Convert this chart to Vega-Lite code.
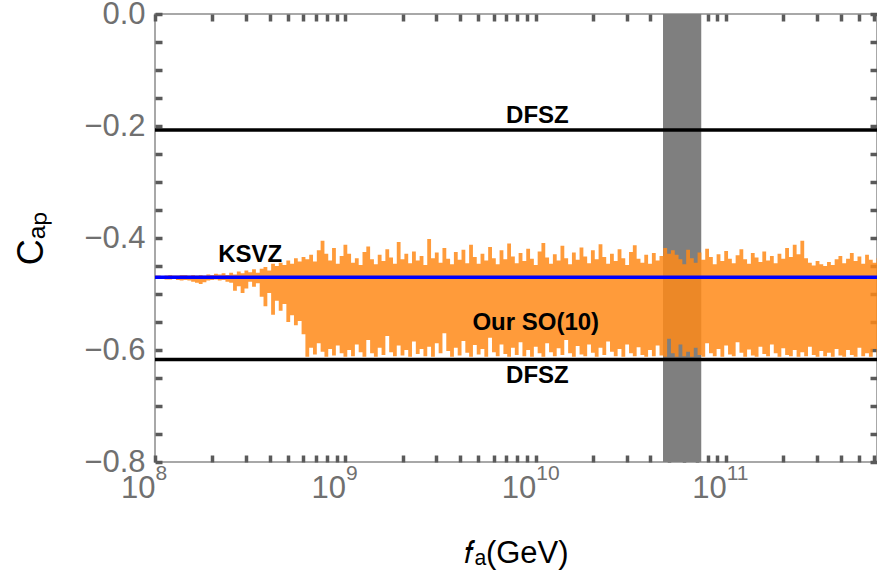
{
  "$schema": "https://vega.github.io/schema/vega-lite/v6.json",
  "width": 722,
  "height": 448,
  "autosize": {"type": "none"},
  "padding": {"left": 155, "top": 14, "right": 0, "bottom": 119},
  "background": "white",
  "config": {
    "view": {"stroke": "#8c8c8c", "strokeWidth": 1.5},
    "axis": {
      "domain": false, "offset": -7, "zindex": 2,
      "ticks": true, "tickColor": "#5a5a5a", "tickWidth": 3.5, "tickSize": 7, "tickOpacity": 1,
      "labelColor": "#707070", "labelFont": "Liberation Sans", "labelFontSize": 31,
      "titleFont": "Liberation Sans", "titleFontSize": 31, "titleFontWeight": "normal", "titleColor": "#000000",
      "grid": false, "labelOverlap": false, "labelFlush": false
    }
  },
  "resolve": {"axis": {"x": "independent", "y": "independent"}},
  "datasets": {
    "band": [{"f0": 4.66e10, "f1": 7.4e10}],
    "lines": [
      {"c": -0.207, "kind": "DFSZ upper"},
      {"c": -0.617, "kind": "DFSZ lower"},
      {"c": -0.470, "kind": "KSVZ"}
    ],
    "labels": [
      {"f": 1.02e10, "c": -0.195, "label": "DFSZ"},
      {"f": 1.02e10, "c": -0.659, "label": "DFSZ"},
      {"f": 3.16e8, "c": -0.443, "label": "KSVZ"},
      {"f": 1.0e10, "c": -0.564, "label": "Our SO(10)"}
    ],
    "series": [
      {"f": 1.000e8, "hi": -0.467, "lo": -0.472},
      {"f": 1.047e8, "hi": -0.467, "lo": -0.473},
      {"f": 1.096e8, "hi": -0.468, "lo": -0.473},
      {"f": 1.148e8, "hi": -0.467, "lo": -0.474},
      {"f": 1.202e8, "hi": -0.466, "lo": -0.474},
      {"f": 1.259e8, "hi": -0.467, "lo": -0.473},
      {"f": 1.318e8, "hi": -0.467, "lo": -0.475},
      {"f": 1.380e8, "hi": -0.466, "lo": -0.476},
      {"f": 1.445e8, "hi": -0.466, "lo": -0.475},
      {"f": 1.514e8, "hi": -0.467, "lo": -0.476},
      {"f": 1.585e8, "hi": -0.466, "lo": -0.478},
      {"f": 1.660e8, "hi": -0.467, "lo": -0.480},
      {"f": 1.738e8, "hi": -0.466, "lo": -0.482},
      {"f": 1.820e8, "hi": -0.467, "lo": -0.479},
      {"f": 1.905e8, "hi": -0.465, "lo": -0.476},
      {"f": 1.995e8, "hi": -0.466, "lo": -0.475},
      {"f": 2.089e8, "hi": -0.464, "lo": -0.474},
      {"f": 2.188e8, "hi": -0.465, "lo": -0.476},
      {"f": 2.291e8, "hi": -0.463, "lo": -0.475},
      {"f": 2.399e8, "hi": -0.466, "lo": -0.478},
      {"f": 2.512e8, "hi": -0.462, "lo": -0.480},
      {"f": 2.630e8, "hi": -0.465, "lo": -0.494},
      {"f": 2.754e8, "hi": -0.460, "lo": -0.486},
      {"f": 2.884e8, "hi": -0.463, "lo": -0.498},
      {"f": 3.020e8, "hi": -0.458, "lo": -0.490},
      {"f": 3.162e8, "hi": -0.461, "lo": -0.478},
      {"f": 3.311e8, "hi": -0.456, "lo": -0.487},
      {"f": 3.467e8, "hi": -0.462, "lo": -0.481},
      {"f": 3.631e8, "hi": -0.455, "lo": -0.505},
      {"f": 3.802e8, "hi": -0.452, "lo": -0.522},
      {"f": 3.981e8, "hi": -0.458, "lo": -0.498},
      {"f": 4.169e8, "hi": -0.446, "lo": -0.537},
      {"f": 4.365e8, "hi": -0.450, "lo": -0.512},
      {"f": 4.571e8, "hi": -0.444, "lo": -0.530},
      {"f": 4.786e8, "hi": -0.448, "lo": -0.518},
      {"f": 5.012e8, "hi": -0.440, "lo": -0.550},
      {"f": 5.248e8, "hi": -0.446, "lo": -0.538},
      {"f": 5.495e8, "hi": -0.436, "lo": -0.556},
      {"f": 5.754e8, "hi": -0.442, "lo": -0.548},
      {"f": 6.026e8, "hi": -0.434, "lo": -0.572},
      {"f": 6.310e8, "hi": -0.438, "lo": -0.612},
      {"f": 6.607e8, "hi": -0.430, "lo": -0.596},
      {"f": 6.918e8, "hi": -0.442, "lo": -0.608},
      {"f": 7.244e8, "hi": -0.422, "lo": -0.588},
      {"f": 7.586e8, "hi": -0.405, "lo": -0.603},
      {"f": 7.943e8, "hi": -0.428, "lo": -0.612},
      {"f": 8.318e8, "hi": -0.440, "lo": -0.598},
      {"f": 8.710e8, "hi": -0.418, "lo": -0.610},
      {"f": 9.120e8, "hi": -0.446, "lo": -0.592},
      {"f": 9.550e8, "hi": -0.432, "lo": -0.606},
      {"f": 1.000e9, "hi": -0.412, "lo": -0.612},
      {"f": 1.047e9, "hi": -0.428, "lo": -0.600},
      {"f": 1.096e9, "hi": -0.444, "lo": -0.611},
      {"f": 1.148e9, "hi": -0.436, "lo": -0.590},
      {"f": 1.202e9, "hi": -0.448, "lo": -0.604},
      {"f": 1.259e9, "hi": -0.425, "lo": -0.612},
      {"f": 1.318e9, "hi": -0.415, "lo": -0.582},
      {"f": 1.380e9, "hi": -0.438, "lo": -0.606},
      {"f": 1.445e9, "hi": -0.447, "lo": -0.612},
      {"f": 1.514e9, "hi": -0.430, "lo": -0.596},
      {"f": 1.585e9, "hi": -0.441, "lo": -0.609},
      {"f": 1.660e9, "hi": -0.420, "lo": -0.575},
      {"f": 1.738e9, "hi": -0.435, "lo": -0.604},
      {"f": 1.820e9, "hi": -0.446, "lo": -0.611},
      {"f": 1.905e9, "hi": -0.407, "lo": -0.592},
      {"f": 1.995e9, "hi": -0.438, "lo": -0.610},
      {"f": 2.089e9, "hi": -0.428, "lo": -0.600},
      {"f": 2.188e9, "hi": -0.445, "lo": -0.612},
      {"f": 2.291e9, "hi": -0.424, "lo": -0.585},
      {"f": 2.399e9, "hi": -0.440, "lo": -0.607},
      {"f": 2.512e9, "hi": -0.432, "lo": -0.598},
      {"f": 2.630e9, "hi": -0.448, "lo": -0.611},
      {"f": 2.754e9, "hi": -0.402, "lo": -0.594},
      {"f": 2.884e9, "hi": -0.436, "lo": -0.612},
      {"f": 3.020e9, "hi": -0.426, "lo": -0.588},
      {"f": 3.162e9, "hi": -0.444, "lo": -0.606},
      {"f": 3.311e9, "hi": -0.418, "lo": -0.570},
      {"f": 3.467e9, "hi": -0.437, "lo": -0.602},
      {"f": 3.631e9, "hi": -0.447, "lo": -0.612},
      {"f": 3.802e9, "hi": -0.425, "lo": -0.596},
      {"f": 3.981e9, "hi": -0.439, "lo": -0.610},
      {"f": 4.169e9, "hi": -0.421, "lo": -0.584},
      {"f": 4.365e9, "hi": -0.445, "lo": -0.605},
      {"f": 4.571e9, "hi": -0.412, "lo": -0.612},
      {"f": 4.786e9, "hi": -0.434, "lo": -0.591},
      {"f": 5.012e9, "hi": -0.446, "lo": -0.608},
      {"f": 5.248e9, "hi": -0.428, "lo": -0.598},
      {"f": 5.495e9, "hi": -0.440, "lo": -0.612},
      {"f": 5.754e9, "hi": -0.416, "lo": -0.578},
      {"f": 6.026e9, "hi": -0.436, "lo": -0.604},
      {"f": 6.310e9, "hi": -0.447, "lo": -0.611},
      {"f": 6.607e9, "hi": -0.422, "lo": -0.590},
      {"f": 6.918e9, "hi": -0.438, "lo": -0.607},
      {"f": 7.244e9, "hi": -0.410, "lo": -0.612},
      {"f": 7.586e9, "hi": -0.433, "lo": -0.596},
      {"f": 7.943e9, "hi": -0.445, "lo": -0.609},
      {"f": 8.318e9, "hi": -0.427, "lo": -0.586},
      {"f": 8.710e9, "hi": -0.441, "lo": -0.611},
      {"f": 9.120e9, "hi": -0.419, "lo": -0.600},
      {"f": 9.550e9, "hi": -0.437, "lo": -0.612},
      {"f": 1.000e10, "hi": -0.448, "lo": -0.594},
      {"f": 1.047e10, "hi": -0.424, "lo": -0.606},
      {"f": 1.096e10, "hi": -0.409, "lo": -0.612},
      {"f": 1.148e10, "hi": -0.435, "lo": -0.588},
      {"f": 1.202e10, "hi": -0.446, "lo": -0.604},
      {"f": 1.259e10, "hi": -0.429, "lo": -0.611},
      {"f": 1.318e10, "hi": -0.440, "lo": -0.597},
      {"f": 1.380e10, "hi": -0.414, "lo": -0.609},
      {"f": 1.445e10, "hi": -0.436, "lo": -0.582},
      {"f": 1.514e10, "hi": -0.447, "lo": -0.606},
      {"f": 1.585e10, "hi": -0.426, "lo": -0.612},
      {"f": 1.660e10, "hi": -0.439, "lo": -0.593},
      {"f": 1.738e10, "hi": -0.417, "lo": -0.608},
      {"f": 1.820e10, "hi": -0.433, "lo": -0.611},
      {"f": 1.905e10, "hi": -0.445, "lo": -0.590},
      {"f": 1.995e10, "hi": -0.422, "lo": -0.605},
      {"f": 2.089e10, "hi": -0.438, "lo": -0.612},
      {"f": 2.188e10, "hi": -0.411, "lo": -0.596},
      {"f": 2.291e10, "hi": -0.434, "lo": -0.609},
      {"f": 2.399e10, "hi": -0.446, "lo": -0.585},
      {"f": 2.512e10, "hi": -0.428, "lo": -0.603},
      {"f": 2.630e10, "hi": -0.441, "lo": -0.611},
      {"f": 2.754e10, "hi": -0.420, "lo": -0.598},
      {"f": 2.884e10, "hi": -0.436, "lo": -0.612},
      {"f": 3.020e10, "hi": -0.448, "lo": -0.590},
      {"f": 3.162e10, "hi": -0.425, "lo": -0.606},
      {"f": 3.311e10, "hi": -0.413, "lo": -0.611},
      {"f": 3.467e10, "hi": -0.437, "lo": -0.595},
      {"f": 3.631e10, "hi": -0.444, "lo": -0.609},
      {"f": 3.802e10, "hi": -0.430, "lo": -0.612},
      {"f": 3.981e10, "hi": -0.446, "lo": -0.600},
      {"f": 4.169e10, "hi": -0.427, "lo": -0.611},
      {"f": 4.365e10, "hi": -0.440, "lo": -0.592},
      {"f": 4.571e10, "hi": -0.432, "lo": -0.610},
      {"f": 4.786e10, "hi": -0.418, "lo": -0.612},
      {"f": 5.012e10, "hi": -0.428, "lo": -0.580},
      {"f": 5.248e10, "hi": -0.422, "lo": -0.606},
      {"f": 5.495e10, "hi": -0.430, "lo": -0.612},
      {"f": 5.754e10, "hi": -0.438, "lo": -0.590},
      {"f": 6.026e10, "hi": -0.447, "lo": -0.611},
      {"f": 6.310e10, "hi": -0.421, "lo": -0.603},
      {"f": 6.607e10, "hi": -0.436, "lo": -0.612},
      {"f": 6.918e10, "hi": -0.444, "lo": -0.596},
      {"f": 7.244e10, "hi": -0.426, "lo": -0.609},
      {"f": 7.586e10, "hi": -0.439, "lo": -0.612},
      {"f": 7.943e10, "hi": -0.419, "lo": -0.588},
      {"f": 8.318e10, "hi": -0.434, "lo": -0.606},
      {"f": 8.710e10, "hi": -0.447, "lo": -0.611},
      {"f": 9.120e10, "hi": -0.429, "lo": -0.598},
      {"f": 9.550e10, "hi": -0.441, "lo": -0.612},
      {"f": 1.000e11, "hi": -0.423, "lo": -0.592},
      {"f": 1.047e11, "hi": -0.437, "lo": -0.608},
      {"f": 1.096e11, "hi": -0.445, "lo": -0.611},
      {"f": 1.148e11, "hi": -0.431, "lo": -0.586},
      {"f": 1.202e11, "hi": -0.420, "lo": -0.605},
      {"f": 1.259e11, "hi": -0.438, "lo": -0.612},
      {"f": 1.318e11, "hi": -0.446, "lo": -0.599},
      {"f": 1.380e11, "hi": -0.427, "lo": -0.610},
      {"f": 1.445e11, "hi": -0.435, "lo": -0.612},
      {"f": 1.514e11, "hi": -0.443, "lo": -0.594},
      {"f": 1.585e11, "hi": -0.424, "lo": -0.607},
      {"f": 1.660e11, "hi": -0.440, "lo": -0.611},
      {"f": 1.738e11, "hi": -0.432, "lo": -0.590},
      {"f": 1.820e11, "hi": -0.445, "lo": -0.606},
      {"f": 1.905e11, "hi": -0.428, "lo": -0.612},
      {"f": 1.995e11, "hi": -0.437, "lo": -0.597},
      {"f": 2.089e11, "hi": -0.418, "lo": -0.609},
      {"f": 2.188e11, "hi": -0.434, "lo": -0.611},
      {"f": 2.291e11, "hi": -0.412, "lo": -0.600},
      {"f": 2.399e11, "hi": -0.429, "lo": -0.612},
      {"f": 2.512e11, "hi": -0.405, "lo": -0.604},
      {"f": 2.630e11, "hi": -0.436, "lo": -0.611},
      {"f": 2.754e11, "hi": -0.444, "lo": -0.594},
      {"f": 2.884e11, "hi": -0.449, "lo": -0.609},
      {"f": 3.020e11, "hi": -0.441, "lo": -0.612},
      {"f": 3.162e11, "hi": -0.447, "lo": -0.602},
      {"f": 3.311e11, "hi": -0.450, "lo": -0.611},
      {"f": 3.467e11, "hi": -0.443, "lo": -0.605},
      {"f": 3.631e11, "hi": -0.448, "lo": -0.612},
      {"f": 3.802e11, "hi": -0.438, "lo": -0.598},
      {"f": 3.981e11, "hi": -0.432, "lo": -0.610},
      {"f": 4.169e11, "hi": -0.445, "lo": -0.612},
      {"f": 4.365e11, "hi": -0.437, "lo": -0.600},
      {"f": 4.571e11, "hi": -0.427, "lo": -0.609},
      {"f": 4.786e11, "hi": -0.441, "lo": -0.612},
      {"f": 5.012e11, "hi": -0.433, "lo": -0.596},
      {"f": 5.248e11, "hi": -0.446, "lo": -0.611},
      {"f": 5.495e11, "hi": -0.430, "lo": -0.606},
      {"f": 5.754e11, "hi": -0.439, "lo": -0.612},
      {"f": 6.026e11, "hi": -0.444, "lo": -0.598},
      {"f": 6.310e11, "hi": -0.436, "lo": -0.610}
    ]
  },
  "layer": [
    {
      "data": {"name": "band"},
      "mark": {"type": "rect", "color": "#7f7f7f"},
      "encoding": {
        "x": {
          "field": "f0", "type": "quantitative",
          "scale": {"type": "log", "domain": [1e8, 6.2e11], "nice": false},
          "axis": {
            "orient": "bottom",
            "values": [1e8, 2e8, 3e8, 4e8, 5e8, 6e8, 7e8, 8e8, 9e8, 1e9, 2e9, 3e9, 4e9, 5e9, 6e9, 7e9, 8e9, 9e9, 1e10, 2e10, 3e10, 4e10, 5e10, 6e10, 7e10, 8e10, 9e10, 1e11, 2e11, 3e11, 4e11, 5e11, 6e11],
            "labelExpr": "datum.value == 1e8 || datum.value == 1e9 || datum.value == 1e10 || datum.value == 1e11 ? '10' : ''",
            "labelAlign": "right",
            "labelDx": 2,
            "labelPadding": 11,
            "title": "𝑓ₐ(GeV)",
            "titlePadding": 35
          }
        },
        "x2": {"field": "f1"}
      }
    },
    {
      "data": {"name": "series"},
      "mark": {"type": "area", "color": "#ff8a18", "opacity": 0.85, "interpolate": "step", "clip": true},
      "encoding": {
        "x": {
          "field": "f", "type": "quantitative",
          "scale": {"type": "log", "domain": [1e8, 6.2e11], "nice": false},
          "axis": {
            "orient": "top",
            "values": [1e8, 2e8, 3e8, 4e8, 5e8, 6e8, 7e8, 8e8, 9e8, 1e9, 2e9, 3e9, 4e9, 5e9, 6e9, 7e9, 8e9, 9e9, 1e10, 2e10, 3e10, 4e10, 5e10, 6e10, 7e10, 8e10, 9e10, 1e11, 2e11, 3e11, 4e11, 5e11, 6e11],
            "labels": false, "title": null
          }
        },
        "y": {
          "field": "hi", "type": "quantitative",
          "scale": {"domain": [-0.8, 0], "nice": false, "zero": false},
          "axis": {
            "orient": "left",
            "values": [-0.8, -0.75, -0.7, -0.65, -0.6, -0.55, -0.5, -0.45, -0.4, -0.35, -0.3, -0.25, -0.2, -0.15, -0.1, -0.05, 0],
            "labelExpr": "abs(datum.value * 5 - round(datum.value * 5)) < 0.001 ? format(datum.value, '.1f') : ''",
            "labelPadding": 10,
            "title": "Cₐₚ",
            "titleFontSize": 36,
            "titlePadding": 33
          }
        },
        "y2": {"field": "lo"}
      }
    },
    {
      "data": {"name": "lines"},
      "mark": {"type": "rule", "strokeWidth": 3.5},
      "encoding": {
        "y": {
          "field": "c", "type": "quantitative",
          "scale": {"domain": [-0.8, 0], "nice": false, "zero": false},
          "axis": {
            "orient": "right",
            "values": [-0.8, -0.75, -0.7, -0.65, -0.6, -0.55, -0.5, -0.45, -0.4, -0.35, -0.3, -0.25, -0.2, -0.15, -0.1, -0.05, 0],
            "labels": false, "title": null
          }
        },
        "color": {
          "field": "kind", "type": "nominal",
          "scale": {"domain": ["DFSZ upper", "DFSZ lower", "KSVZ"], "range": ["#000000", "#000000", "#0000ff"]},
          "legend": null
        }
      }
    },
    {
      "data": {"name": "labels"},
      "mark": {"type": "text", "font": "Liberation Sans", "fontWeight": "bold", "fontSize": 24, "baseline": "alphabetic", "align": "center", "color": "#000000"},
      "encoding": {
        "x": {
          "field": "f", "type": "quantitative",
          "scale": {"type": "log", "domain": [1e8, 6.2e11], "nice": false},
          "axis": {
            "orient": "bottom",
            "values": [1e8, 1e9, 1e10, 1e11],
            "labelExpr": "datum.value == 1e8 ? '8' : datum.value == 1e9 ? '9' : datum.value == 1e10 ? '10' : '11'",
            "labelAlign": "left",
            "labelDx": 2,
            "labelFontSize": 21,
            "labelPadding": 7,
            "ticks": false,
            "title": null
          }
        },
        "y": {"field": "c", "type": "quantitative", "axis": null},
        "text": {"field": "label"}
      }
    }
  ]
}
